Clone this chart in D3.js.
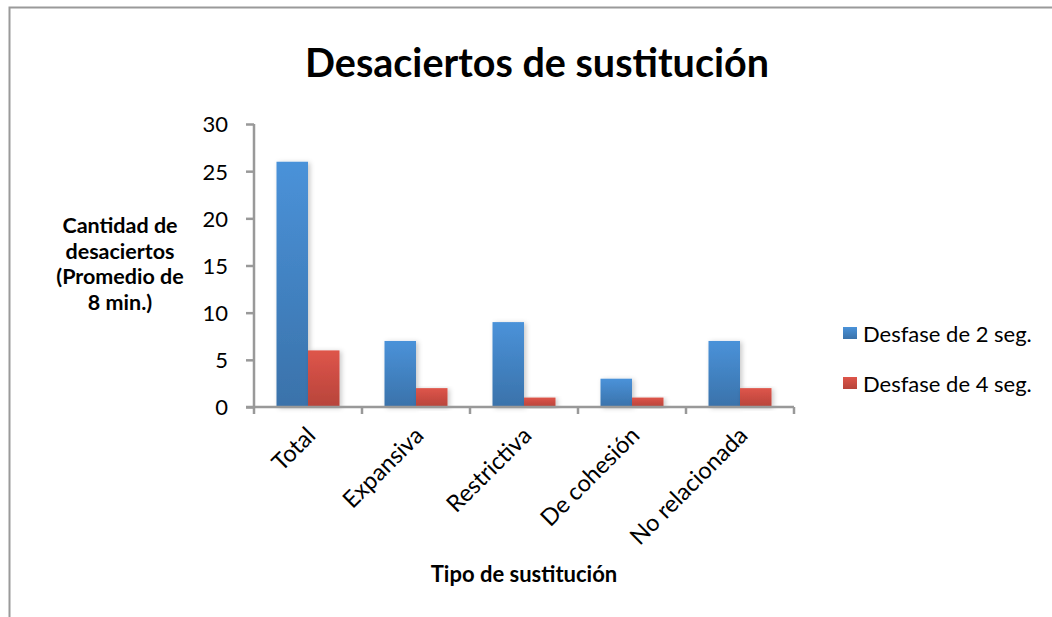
<!DOCTYPE html>
<html>
<head>
<meta charset="utf-8">
<script src="https://cdn.jsdelivr.net/npm/d3@7/dist/d3.min.js"></script>
<style>
  html, body { margin: 0; padding: 0; background: #fff; }
  svg { display: block; }
  text { font-family: Lato, "Open Sans", sans-serif; fill: #000; }
</style>
</head>
<body>
<svg id="chart" width="1052" height="617"></svg>
<script>
// Chart data
const categories = ["Total", "Expansiva", "Restrictiva", "De cohesión", "No relacionada"];
const seriesNames = ["Desfase de 2 seg.", "Desfase de 4 seg."];
const desfase2 = [26, 7, 9, 3, 7];
const desfase4 = [6, 2, 1, 1, 2];
const yTicks = [0, 5, 10, 15, 20, 25, 30];

const svg = d3.select("#chart");
const W = 1052, H = 617;

// Outer frame (only top and left edges fall inside the view)
svg.append("rect")
  .attr("x", 9.5).attr("y", 7.5)
  .attr("width", W + 20).attr("height", H + 20)
  .attr("fill", "#fff").attr("stroke", "#9a9a9a").attr("stroke-width", 2);

const defs = svg.append("defs");
function gradient(id, top, bottom) {
  const g = defs.append("linearGradient").attr("id", id)
    .attr("x1", 0).attr("y1", 0).attr("x2", 0).attr("y2", 1);
  g.append("stop").attr("offset", "0%").attr("stop-color", top);
  g.append("stop").attr("offset", "100%").attr("stop-color", bottom);
}
gradient("gBlue", "#4a92d9", "#3a72aa");
gradient("gRed", "#de554a", "#b7443b");
const shadow = defs.append("filter").attr("id", "shadow")
  .attr("x", "-20%").attr("y", "-10%").attr("width", "150%").attr("height", "130%");
shadow.append("feDropShadow").attr("dx", 2).attr("dy", 1).attr("stdDeviation", 2.5)
  .attr("flood-color", "#000").attr("flood-opacity", 0.22);

const margin = { left: 254, right: 794, top: 124, bottom: 407 };

const x = d3.scaleBand().domain(categories)
  .range([margin.left, margin.right]).paddingInner(0).paddingOuter(0);
const xs = d3.scaleBand().domain(seriesNames)
  .range([0, x.bandwidth()]).paddingInner(0).paddingOuter(0.714);
const y = d3.scaleLinear().domain([0, 30]).range([margin.bottom, margin.top]);

const fills = ["url(#gBlue)", "url(#gRed)"];
const series = [desfase2, desfase4];

// Bars
const groups = svg.append("g").selectAll("g")
  .data(categories).join("g")
  .attr("transform", d => `translate(${x(d)},0)`);
groups.each(function(cat, i) {
  d3.select(this).selectAll("rect")
    .data(seriesNames.map((s, j) => ({ s, v: series[j][i], j })))
    .join("rect")
    .attr("x", d => xs(d.s))
    .attr("y", d => y(d.v))
    .attr("width", xs.bandwidth())
    .attr("height", d => y(0) - y(d.v))
    .attr("fill", d => fills[d.j])
    .attr("filter", "url(#shadow)");
});

// Y axis
const yAxis = svg.append("g")
  .attr("transform", `translate(${margin.left},0)`)
  .call(d3.axisLeft(y).tickValues(yTicks).tickSize(8).tickPadding(18));
yAxis.select(".domain").attr("stroke", "#999").attr("stroke-width", 2.5)
  .attr("d", `M0,${margin.top}V${margin.bottom}`);
yAxis.selectAll(".tick line").attr("stroke", "#999").attr("stroke-width", 2.5);
yAxis.selectAll(".tick text").style("font-family", "Lato, sans-serif")
  .style("font-size", "22px").attr("fill", "#000").attr("dy", "0.36em");

// X axis with boundary ticks
const xAxisG = svg.append("g");
xAxisG.append("line")
  .attr("x1", margin.left - 8).attr("x2", margin.right)
  .attr("y1", y(0)).attr("y2", y(0))
  .attr("stroke", "#999").attr("stroke-width", 2.5);
const bounds = categories.map(c => x(c)).concat([x(categories[categories.length - 1]) + x.bandwidth()]);
xAxisG.selectAll("line.tk").data(bounds).join("line").attr("class", "tk")
  .attr("x1", d => d).attr("x2", d => d)
  .attr("y1", y(0)).attr("y2", y(0) + 7)
  .attr("stroke", "#999").attr("stroke-width", 2.5);

// Rotated category labels
svg.append("g").selectAll("text")
  .data(categories).join("text")
  .attr("transform", d => `translate(${x(d) + x.bandwidth() / 2 + 9},${y(0) + 30}) rotate(-45)`)
  .attr("text-anchor", "end")
  .style("font-size", "23.5px")
  .text(d => d);

// Title
svg.append("text")
  .attr("x", 537).attr("y", 77)
  .attr("text-anchor", "middle")
  .style("font-size", "39.5px").style("font-weight", "bold")
  .text("Desaciertos de sustitución");

// Y axis title
const yTitle = ["Cantidad de", "desaciertos", "(Promedio de", "8 min.)"];
svg.append("g").selectAll("text").data(yTitle).join("text")
  .attr("x", 120).attr("y", (d, i) => 233 + i * 25.5)
  .attr("text-anchor", "middle")
  .style("font-size", "21.5px").style("font-weight", "bold")
  .text(d => d);

// X axis title
svg.append("text")
  .attr("x", 524).attr("y", 582)
  .attr("text-anchor", "middle")
  .style("font-size", "22px").style("font-weight", "bold")
  .text("Tipo de sustitución");

// Legend
const legend = svg.append("g").selectAll("g").data(seriesNames).join("g")
  .attr("transform", (d, i) => `translate(843,${327 + i * 50})`);
legend.append("rect").attr("width", 14).attr("height", 12)
  .attr("fill", (d, i) => fills[i]);
legend.append("text").attr("x", 20).attr("y", 15)
  .style("font-size", "22px").text(d => d);
</script>
</body>
</html>
